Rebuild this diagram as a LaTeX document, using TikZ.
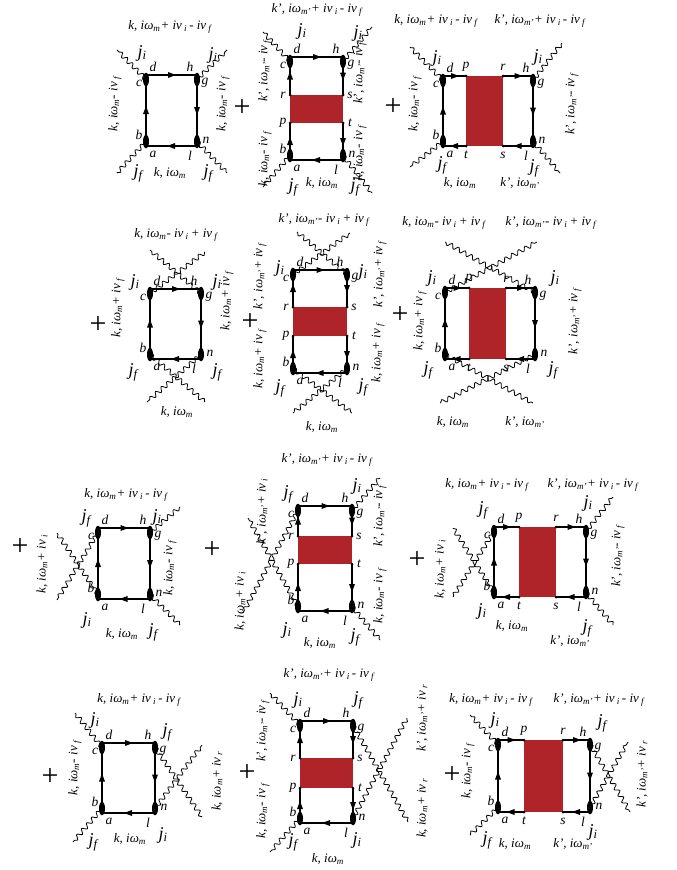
\documentclass[tikz,border=0pt]{standalone}
\usepackage{fontspec}
\setmainfont{Liberation Serif}
\usetikzlibrary{shapes.geometric,decorations.pathmorphing}
\definecolor{bandred}{RGB}{174,36,40}
\tikzset{
 edge/.style={line width=1.2pt},
 vtx/.style={ellipse,fill=black,inner sep=0pt,minimum width=6pt,minimum height=13.5pt},
 sdot/.style={circle,fill=black,inner sep=0pt,minimum size=3pt},
 wavy/.style={decorate,decoration={snake,segment length=7.5pt,amplitude=2.2pt},line width=0.8pt},
 vl/.style={font=\fontsize{13.5}{14}\selectfont\itshape,inner sep=0pt},
 lab/.style={font=\fontsize{13}{14}\selectfont\itshape,inner sep=0pt},
 rlab/.style={lab,rotate=90},
 jl/.style={font=\fontsize{18}{18}\selectfont\itshape,inner sep=0pt},
 pl/.style={font=\fontsize{30}{30}\selectfont,inner sep=0pt},
 tip/.style={fill=black},
}
% arrow heads (page directions): right, left, down, up
\newcommand{\aR}[2]{\fill[tip] ({#1+4.5},{#2}) -- ({#1-3.5},{#2-3}) -- ({#1-3.5},{#2+3}) -- cycle;}
\newcommand{\aL}[2]{\fill[tip] ({#1-4.5},{#2}) -- ({#1+3.5},{#2-3}) -- ({#1+3.5},{#2+3}) -- cycle;}
\newcommand{\aD}[2]{\fill[tip] ({#1},{#2+4.5}) -- ({#1-3},{#2-3.5}) -- ({#1+3},{#2-3.5}) -- cycle;}
\newcommand{\aU}[2]{\fill[tip] ({#1},{#2-4.5}) -- ({#1-3},{#2+3.5}) -- ({#1+3},{#2+3.5}) -- cycle;}
\newcommand{\omg}[1]{iω\textsubscript{#1}}
\newcommand{\ivv}[1]{iv\,\textsubscript{#1}\,}
\newcommand{\lbh}[3]{\node[lab] (#1) at (#2) {#3};}
\newcommand{\lbv}[3]{\node[rlab] (#1) at (#2) {#3};}
\newcommand{\jj}[3]{\node[jl] (#1) at (#2) {j\textsubscript{#3}};}
\newcommand{\pls}[2]{\node[pl] (#1) at (#2) {+};}
\newcommand{\wv}[3]{\coordinate (#1) at (#3); \draw[wavy] (#2.center) -- (#1);}
\newcommand{\corners}[5]{%
 \coordinate (#1-tl) at (#2,#4); \coordinate (#1-tr) at (#3,#4);
 \coordinate (#1-bl) at (#2,#5); \coordinate (#1-br) at (#3,#5);
 \node[vl] (#1-d) at (#2+7,#4-8) {d};
 \node[vl] (#1-c) at (#2-7,#4+8) {c};
 \node[vl] (#1-b) at (#2-7,#5-11) {b};
 \node[vl] (#1-a) at (#2+7,#5+8) {a};
 \node[vl] (#1-h) at (#3-7,#4-8) {h};
 \node[vl] (#1-g) at (#3+8,#4+8) {g};
 \node[vl] (#1-n) at (#3+9,#5-6) {n};
 \node[vl] (#1-l) at (#3-7,#5+10) {l};}
\newcommand{\vtxs}[5]{%
 \node[vtx] (#1-etl) at (#2,#4+4.5) {};
 \node[vtx] (#1-etr) at (#3,#4+4.5) {};
 \node[vtx] (#1-ebl) at (#2,#5-4.5) {};
 \node[vtx] (#1-ebr) at (#3,#5-4.5) {};}
\newcommand{\plainbox}[5]{\corners{#1}{#2}{#3}{#4}{#5}
 \draw[edge] (#1-tl) -- (#1-tr) -- (#1-br) -- (#1-bl) -- cycle;
 \aR{(#2+#3)/2}{#4} \aD{#3}{(#4+#5)/2} \aL{(#2+#3)/2}{#5} \aU{#2}{(#4+#5)/2}
 \vtxs{#1}{#2}{#3}{#4}{#5}}
\newcommand{\vbandbox}[7]{\corners{#1}{#2}{#3}{#4}{#5}
 \coordinate (#1-r) at (#2,#6); \coordinate (#1-s) at (#3,#6);
 \coordinate (#1-p) at (#2,#7); \coordinate (#1-t) at (#3,#7);
 \fill[bandred] (#1-r) rectangle (#1-t);
 \draw[edge] (#1-r) -- (#1-tl) -- (#1-tr) -- (#1-s);
 \draw[edge] (#1-t) -- (#1-br) -- (#1-bl) -- (#1-p);
 \aR{(#2+#3)/2}{#4} \aL{(#2+#3)/2}{#5}
 \aD{#3}{(#4+#6)/2} \aD{#3}{(#7+#5)/2}
 \aU{#2}{(#4+#6)/2} \aU{#2}{(#7+#5)/2}
 \node[sdot] (#1-dr) at (#1-r) {}; \node[sdot] (#1-ds) at (#1-s) {};
 \node[sdot] (#1-dp) at (#1-p) {}; \node[sdot] (#1-dt) at (#1-t) {};
 \node[vl] (#1-lr) at (#2-7,#6) {r}; \node[vl] (#1-ls) at (#3+7,#6) {s};
 \node[vl] (#1-lp) at (#2-7,#7) {p}; \node[vl] (#1-lt) at (#3+7,#7) {t};
 \vtxs{#1}{#2}{#3}{#4}{#5}}
\newcommand{\hbandbox}[7]{\corners{#1}{#2}{#3}{#4}{#5}
 \coordinate (#1-p) at (#6,#4); \coordinate (#1-r) at (#7,#4);
 \coordinate (#1-t) at (#6,#5); \coordinate (#1-s) at (#7,#5);
 \fill[bandred] (#1-p) rectangle (#1-s);
 \draw[edge] (#1-p) -- (#1-tl) -- (#1-bl) -- (#1-t);
 \draw[edge] (#1-r) -- (#1-tr) -- (#1-br) -- (#1-s);
 \aR{(#2+#6)/2}{#4} \aR{(#7+#3)/2}{#4}
 \aL{(#2+#6)/2}{#5} \aL{(#7+#3)/2}{#5}
 \aU{#2}{(#4+#5)/2} \aD{#3}{(#4+#5)/2}
 \node[sdot] (#1-dp) at (#1-p) {}; \node[sdot] (#1-dr) at (#1-r) {};
 \node[sdot] (#1-dt) at (#1-t) {}; \node[sdot] (#1-ds) at (#1-s) {};
 \node[vl] (#1-lp) at (#6,#4-9) {p}; \node[vl] (#1-lr) at (#7,#4-9) {r};
 \node[vl] (#1-lt) at (#6,#5+9) {t}; \node[vl] (#1-ls) at (#7,#5+9) {s};
 \vtxs{#1}{#2}{#3}{#4}{#5}}
\begin{document}
\begin{tikzpicture}[x=1pt,y=-1pt]
\fill[white] (0,0) rectangle (677,870);
\useasboundingbox (0,0) rectangle (677,870);
% ---------------- Row 1 ----------------
% D1
\plainbox{D1}{146}{197}{75}{146}
\wv{D1-w1}{D1-etl}{117,50} \wv{D1-w2}{D1-etr}{227,50}
\wv{D1-w3}{D1-ebl}{117,173} \wv{D1-w4}{D1-ebr}{227,173}
\lbh{D1-top}{171,27}{k, \omg{m}+ \ivv{i}- \ivv{f}}
\lbh{D1-bot}{170,173}{k, \omg{m}}
\lbv{D1-lft}{115,103}{k, \omg{m}- \ivv{f}}
\lbv{D1-rgt}{223,103}{k, \omg{m}- \ivv{f}}
\jj{D1-j1}{142,53}{i} \jj{D1-j2}{213,55}{i} \jj{D1-j3}{138,173}{f} \jj{D1-j4}{208,173}{f}
\pls{P1}{242,108}
% D2
\vbandbox{D2}{290}{343}{57}{160}{95}{123}
\wv{D2-w1}{D2-etl}{263,32} \wv{D2-w2}{D2-etr}{372,27}
\wv{D2-w3}{D2-ebl}{263,187} \wv{D2-w4}{D2-ebr}{372,193}
\lbh{D2-top}{318,10}{k', \omg{m'}+ \ivv{i}- \ivv{f}}
\lbh{D2-bot}{322,183}{k, \omg{m}}
\lbv{D2-lf1}{265,70}{k', \omg{m'}- \ivv{f}}
\lbv{D2-lf2}{265,158}{k, \omg{m}- \ivv{f}}
\lbv{D2-rt1}{360,72}{k', \omg{m'}- \ivv{f}}
\lbv{D2-rt2}{360,152}{k, \omg{m}- \ivv{f}}
\jj{D2-j1}{302,31}{i} \jj{D2-j2}{358,33}{i} \jj{D2-j3}{293,187}{f} \jj{D2-j4}{355,187}{f}
\pls{P2}{393,107}
% D3
\hbandbox{D3}{443}{533}{76}{146}{466}{503}
\wv{D3-w1}{D3-etl}{410,47} \wv{D3-w2}{D3-etr}{562,43}
\wv{D3-w3}{D3-ebl}{410,167} \wv{D3-w4}{D3-ebr}{560,173}
\lbh{D3-top1}{437,21}{k, \omg{m}+ \ivv{i}- \ivv{f}}
\lbh{D3-top2}{541,21}{k', \omg{m'}+ \ivv{i}- \ivv{f}}
\lbh{D3-bot1}{460,183}{k, \omg{m}}
\lbh{D3-bot2}{520,183}{k', \omg{m'}}
\lbv{D3-lft}{415,103}{k, \omg{m}- \ivv{f}}
\lbv{D3-rgt}{572,103}{k', \omg{m'}- \ivv{f}}
\jj{D3-j1}{437,58}{i} \jj{D3-j2}{538,57}{i} \jj{D3-j3}{442,165}{f} \jj{D3-j4}{534,168}{f}
% ---------------- Row 2 ----------------
\pls{P3}{98,325}
% D4
\plainbox{D4}{150}{201}{289}{359}
\wv{D4-w1}{D4-etl}{205,252} \wv{D4-w2}{D4-etr}{150,250}
\wv{D4-w3}{D4-ebl}{205,402} \wv{D4-w4}{D4-ebr}{147,402}
\lbh{D4-top}{177,235}{k, \omg{m}- \ivv{i}+ \ivv{f}}
\lbh{D4-bot}{177,412}{k, \omg{m}}
\lbv{D4-lft}{118,307}{k, \omg{m}+ \ivv{f}}
\lbv{D4-rgt}{227,300}{k, \omg{m}+ \ivv{f}}
\jj{D4-j1}{135,282}{i} \jj{D4-j2}{217,282}{i} \jj{D4-j3}{133,372}{f} \jj{D4-j4}{217,372}{f}
\pls{P4}{250,322}
% D5
\vbandbox{D5}{293}{347}{270}{373}{307}{336}
\wv{D5-w1}{D5-etl}{350,233} \wv{D5-w2}{D5-etr}{297,232}
\wv{D5-w3}{D5-ebl}{352,413} \wv{D5-w4}{D5-ebr}{293,413}
\lbh{D5-top}{325,220}{k', \omg{m'}- \ivv{i}+ \ivv{f}}
\lbh{D5-bot}{322,427}{k, \omg{m}}
\lbv{D5-lf1}{260,275}{k', \omg{m'}+ \ivv{f}}
\lbv{D5-lf2}{260,358}{k, \omg{m}+ \ivv{f}}
\lbv{D5-rt1}{380,273}{k', \omg{m'}+ \ivv{f}}
\lbv{D5-rt2}{378,352}{k, \omg{m}+ \ivv{f}}
\jj{D5-j1}{280,268}{i} \jj{D5-j2}{363,272}{i} \jj{D5-j3}{280,388}{f} \jj{D5-j4}{363,387}{f}
\pls{P5}{400,315}
% D6
\hbandbox{D6}{445}{535}{288}{359}{469}{506}
\wv{D6-w1}{D6-etl}{537,242} \wv{D6-w2}{D6-etr}{445,242}
\wv{D6-w3}{D6-ebl}{533,403} \wv{D6-w4}{D6-ebr}{440,403}
\lbh{D6-top1}{445,223}{k, \omg{m}- \ivv{i}+ \ivv{f}}
\lbh{D6-top2}{552,223}{k', \omg{m'}- \ivv{i}+ \ivv{f}}
\lbh{D6-bot1}{453,422}{k, \omg{m}}
\lbh{D6-bot2}{525,422}{k', \omg{m'}}
\lbv{D6-lft}{420,320}{k, \omg{m}+ \ivv{f}}
\lbv{D6-rgt}{575,320}{k', \omg{m'}+ \ivv{f}}
\jj{D6-j1}{432,278}{i} \jj{D6-j2}{555,278}{i} \jj{D6-j3}{428,370}{f} \jj{D6-j4}{553,370}{f}
% ---------------- Row 3 ----------------
\pls{P6}{20,547}
% D7
\plainbox{D7}{98}{150}{528}{599}
\wv{D7-w1}{D7-etl}{57,600} \wv{D7-w2}{D7-ebl}{57,533}
\wv{D7-w3}{D7-etr}{180,507} \wv{D7-w4}{D7-ebr}{180,625}
\lbh{D7-top}{127,495}{k, \omg{m}+ \ivv{i}- \ivv{f}}
\lbh{D7-bot}{122,634}{k, \omg{m}}
\lbv{D7-lft}{42,563}{k, \omg{m}+ \ivv{i}}
\lbv{D7-rgt}{170,567}{k, \omg{m}- \ivv{f}}
\jj{D7-j1}{86,518}{f} \jj{D7-j2}{157,517}{i} \jj{D7-j3}{87,620}{i} \jj{D7-j4}{153,632}{f}
\pls{P7}{212,550}
% D8
\vbandbox{D8}{298}{352}{506}{611}{536}{564}
\wv{D8-w1}{D8-etl}{243,613} \wv{D8-w2}{D8-ebl}{248,518}
\wv{D8-w3}{D8-etr}{380,478} \wv{D8-w4}{D8-ebr}{380,640}
\lbh{D8-top}{328,460}{k', \omg{m'}+ \ivv{i}- \ivv{f}}
\lbh{D8-bot}{320,643}{k, \omg{m}}
\lbv{D8-lf1}{240,600}{k, \omg{m}+ \ivv{i}}
\lbv{D8-lf2}{262,510}{k', \omg{m'}+ \ivv{i}}
\lbv{D8-rt1}{380,515}{k', \omg{m'}- \ivv{f}}
\lbv{D8-rt2}{380,595}{k, \omg{m}- \ivv{f}}
\jj{D8-j1}{288,494}{f} \jj{D8-j2}{357,486}{i} \jj{D8-j3}{287,630}{i} \jj{D8-j4}{355,637}{f}
\pls{P8}{417,560}
% D9
\hbandbox{D9}{494}{586}{527}{597}{519}{556}
\wv{D9-w1}{D9-etl}{453,597} \wv{D9-w2}{D9-ebl}{453,528}
\wv{D9-w3}{D9-etr}{613,497} \wv{D9-w4}{D9-ebr}{613,625}
\lbh{D9-top1}{488,485}{k, \omg{m}+ \ivv{i}- \ivv{f}}
\lbh{D9-top2}{594,485}{k', \omg{m'}+ \ivv{i}- \ivv{f}}
\lbh{D9-bot1}{512,626}{k, \omg{m}}
\lbh{D9-bot2}{570,641}{k', \omg{m'}}
\lbv{D9-lft}{440,568}{k, \omg{m}+ \ivv{i}}
\lbv{D9-rgt}{618,555}{k', \omg{m'}- \ivv{f}}
\jj{D9-j1}{483,510}{f} \jj{D9-j2}{588,503}{i} \jj{D9-j3}{482,611}{i} \jj{D9-j4}{587,628}{f}
% ---------------- Row 4 ----------------
\pls{P9}{50,777}
% D10
\plainbox{D10}{102}{155}{743}{813}
\wv{D10-w1}{D10-etl}{75,713} \wv{D10-w2}{D10-ebl}{73,842}
\wv{D10-w3}{D10-etr}{202,817} \wv{D10-w4}{D10-ebr}{202,745}
\lbh{D10-top}{140,700}{k, \omg{m}+ \ivv{i}- \ivv{f}}
\lbh{D10-bot}{130,839}{k, \omg{m}}
\lbv{D10-lft}{75,767}{k, \omg{m}- \ivv{f}}
\lbv{D10-rgt}{217,780}{k, \omg{m}+ \ivv{r}}
\jj{D10-j1}{95,720}{i} \jj{D10-j2}{167,732}{f} \jj{D10-j3}{93,842}{f} \jj{D10-j4}{163,835}{i}
\pls{P10}{247,773}
% D11
\vbandbox{D11}{300}{353}{721}{823}{758}{788}
\wv{D11-w1}{D11-etl}{270,693} \wv{D11-w2}{D11-ebl}{270,852}
\wv{D11-w3}{D11-etr}{408,822} \wv{D11-w4}{D11-ebr}{407,718}
\lbh{D11-top}{330,675}{k', \omg{m'}+ \ivv{i}- \ivv{f}}
\lbh{D11-bot}{328,859}{k, \omg{m}}
\lbv{D11-lf1}{263,730}{k', \omg{m'}- \ivv{f}}
\lbv{D11-lf2}{263,810}{k, \omg{m}- \ivv{f}}
\lbv{D11-rt1}{422,717}{k', \omg{m'}+ \ivv{r}}
\lbv{D11-rt2}{422,807}{k, \omg{m}+ \ivv{r}}
\jj{D11-j1}{298,700}{i} \jj{D11-j2}{358,700}{f} \jj{D11-j3}{293,842}{f} \jj{D11-j4}{357,840}{i}
\pls{P11}{452,775}
% D12
\hbandbox{D12}{498}{590}{740}{812}{524}{563}
\wv{D12-w1}{D12-etl}{470,715} \wv{D12-w2}{D12-ebl}{470,835}
\wv{D12-w3}{D12-etr}{630,812} \wv{D12-w4}{D12-ebr}{628,742}
\lbh{D12-top1}{492,700}{k, \omg{m}+ \ivv{i}- \ivv{f}}
\lbh{D12-top2}{600,700}{k', \omg{m'}+ \ivv{i}- \ivv{f}}
\lbh{D12-bot1}{515,844}{k, \omg{m}}
\lbh{D12-bot2}{573,844}{k', \omg{m'}}
\lbv{D12-lft}{468,770}{k, \omg{m}- \ivv{f}}
\lbv{D12-rgt}{642,773}{k', \omg{m'}+ \ivv{r}}
\jj{D12-j1}{495,720}{i} \jj{D12-j2}{602,723}{f} \jj{D12-j3}{487,840}{f} \jj{D12-j4}{593,832}{i}
\end{tikzpicture}
\end{document}
